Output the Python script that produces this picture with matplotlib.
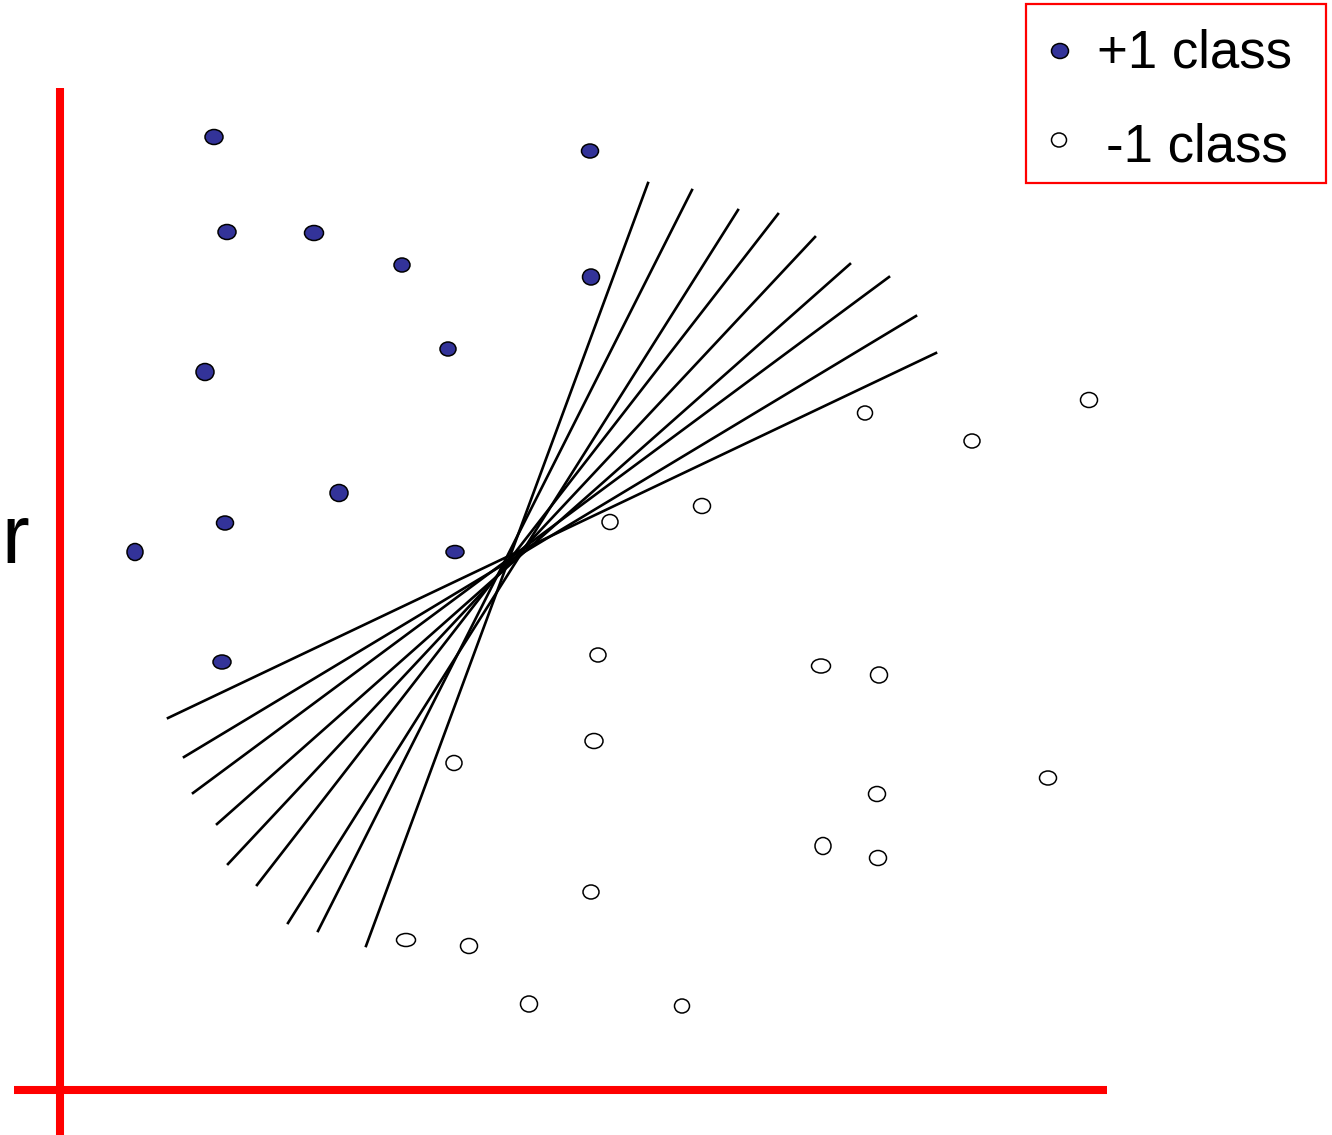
import matplotlib.pyplot as plt
from matplotlib.patches import Ellipse, Rectangle

# positions (pixel-like coordinates, y grows downwards)
pos_x = [214, 590, 227, 314, 402, 591, 448, 205, 339, 225, 135, 455, 222]
pos_y = [137, 151, 232, 233, 265, 277, 349, 372, 493, 523, 552, 552, 662]
pos_w = [18, 17, 18, 19, 16, 17, 16, 18, 18, 17, 16, 18, 18]
pos_h = [15, 14, 15, 15, 14, 16, 14, 17, 17, 14, 17, 13, 14]

neg_x = [865, 1089, 972, 702, 610, 598, 821, 879, 594, 454, 877, 1048, 823, 878, 591, 406, 469, 529, 682]
neg_y = [413, 400, 441, 506, 522, 655, 666, 675, 741, 763, 794, 778, 846, 858, 892, 940, 946, 1004, 1006]
neg_w = [15, 17, 16, 17, 16, 16, 19, 17, 18, 16, 17, 17, 16, 17, 16, 19, 17, 17, 15]
neg_h = [14, 15, 14, 15, 15, 14, 14, 16, 15, 15, 15, 14, 17, 15, 14, 13, 15, 16, 14]

# candidate separating lines: upper end and lower end
line_x0 = [648, 692, 738, 778, 815, 850, 889, 916, 936]
line_y0 = [183, 190, 210, 214, 237, 264, 277, 316, 353]
line_x1 = [366, 318, 288, 257, 228, 217, 193, 184, 168]
line_y1 = [946, 931, 923, 885, 864, 824, 793, 757, 718]

W, H = 1332, 1135
fig = plt.figure(figsize=(W / 100, H / 100), dpi=100)
ax = fig.add_axes([0, 0, 1, 1])
ax.set_xlim(0, W)
ax.set_ylim(H, 0)
ax.axis('off')

# red axes
ax.plot([59.5, 59.5], [88, H], color='#ff0000', lw=5.8, solid_capstyle='butt')
ax.plot([14, 1107], [1090, 1090], color='#ff0000', lw=5.8, solid_capstyle='butt')

for x0, y0, x1, y1 in zip(line_x0, line_y0, line_x1, line_y1):
    ax.plot([x0, x1], [y0, y1], color='black', lw=1.9)

for x, y, w, h in zip(pos_x, pos_y, pos_w, pos_h):
    ax.add_patch(Ellipse((x, y), w, h, facecolor='#333399', edgecolor='black', lw=1.1))
for x, y, w, h in zip(neg_x, neg_y, neg_w, neg_h):
    ax.add_patch(Ellipse((x, y), w, h, facecolor='white', edgecolor='black', lw=1.1))

ax.text(1, 563, 'r', fontsize=60, family='Liberation Sans', ha='left', va='baseline')

# legend box
ax.add_patch(Rectangle((1026, 4), 300, 179, facecolor='white', edgecolor='#ff0000', lw=1.6))
ax.add_patch(Ellipse((1060, 51), 17, 15, facecolor='#333399', edgecolor='black', lw=1.1))
ax.add_patch(Ellipse((1059, 140), 15, 14, facecolor='white', edgecolor='black', lw=1.1))
ax.text(1097, 68, '+1 class', fontsize=38, family='Liberation Sans', ha='left', va='baseline')
ax.text(1106, 162, '-1 class', fontsize=38, family='Liberation Sans', ha='left', va='baseline')

fig.savefig('out.png', dpi=100)
